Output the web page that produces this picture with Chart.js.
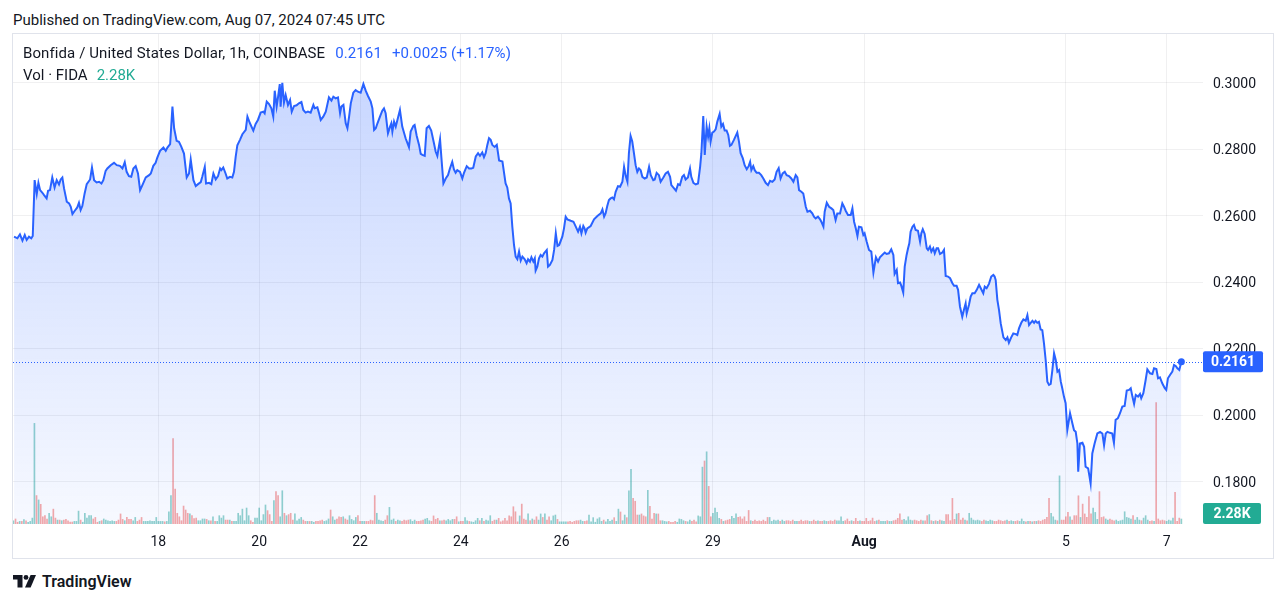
<!DOCTYPE html>
<html>
<head>
<meta charset="utf-8">
<script src="https://cdn.jsdelivr.net/npm/chart.js@4/dist/chart.umd.min.js"></script>
<style>
  html,body{margin:0;padding:0;background:#ffffff;}
  body{width:1286px;height:603px;overflow:hidden;position:relative;font-family:Roboto,"Noto Sans",sans-serif;color:#131722;}
  #pub{position:absolute;left:13px;top:11px;font-size:15px;line-height:18px;white-space:nowrap;}
  #frame{position:absolute;left:12px;top:33px;width:1260px;height:524px;border:1px solid #e0e3eb;}
  #c{position:absolute;left:0;top:0;}
  #leg1{position:absolute;left:10px;top:10px;font-size:15px;line-height:18px;white-space:nowrap;letter-spacing:0.1px;}
  #leg2{position:absolute;left:10px;top:32px;font-size:15px;line-height:18px;white-space:nowrap;}
  .blue{color:#2962ff;margin-left:10px;}
  .teal{color:#22ab94;margin-left:9px;}
  #logo{position:absolute;left:13px;top:572px;height:18px;display:flex;align-items:center;}
  #logo span{font-size:16px;font-weight:600;margin-left:5px;color:#131722;}
</style>
</head>
<body>
<div id="pub">Published on TradingView.com, Aug 07, 2024 07:45 UTC</div>
<div id="frame">
  <canvas id="c" width="1260" height="524"></canvas>
  <div id="leg1"><span id="sym"></span><span class="blue" id="lastP"></span><span class="blue" id="chg"></span></div>
  <div id="leg2"><span id="volName"></span><span class="teal" id="lastV"></span></div>
</div>
<div id="logo">
  <svg width="24" height="13" viewBox="0 0 24 13"><path d="M0 0h9.5v12.5h-5v-8h-4.5z" fill="#131722"/><circle cx="13" cy="2.4" r="2.4" fill="#131722"/><path d="M17.6 0h5.4l-5.4 12.5h-5.6z" fill="#131722"/></svg>
  <span>TradingView</span>
</div>
<script>
// ---------- texts ----------
const symbolTitle = "Bonfida / United States Dollar, 1h, COINBASE";
const lastPriceText = "0.2161";
const changeText = "+0.0025 (+1.17%)";
const volumeTitle = "Vol · FIDA";

// ---------- x axis (hours since Jul 18 00:00 UTC) ----------
const tickHours  = [0, 48, 96, 144, 192, 264, 336, 432, 480];
const tickLabels = ["18", "20", "22", "24", "26", "29", "Aug", "5", "7"];
const priceTicks = [0.18, 0.20, 0.22, 0.24, 0.26, 0.28, 0.30];

// ---------- price (close, 1h) as [hour, price] ----------
const priceJul15to18 = [[-68.7,.2537],[-67.1,.2532],[-65.9,.2544],[-64.7,.2525],[-63.6,.2542],[-62.7,.2527],[-61.6,.2537],[-60.5,.2532],[-59.8,.2539],[-58.9,.2707],[-57.9,.2665],[-57.1,.2699],[-56.3,.2677],[-55.2,.2669],[-54.4,.2662],[-53.2,.2652],[-52.5,.2675],[-51.6,.2677],[-50.5,.2715],[-49.4,.2685],[-48.4,.2707],[-47.3,.2694],[-46.5,.2709],[-45.7,.2715],[-44.9,.2682],[-43.6,.2642],[-42.5,.2637],[-41.7,.2627],[-40.9,.2605],[-39.8,.2615],[-38.6,.2625],[-37.8,.2639],[-37.0,.2617],[-36.2,.2629],[-35.1,.2667],[-34.1,.2695],[-32.5,.2709],[-31.6,.2745],[-30.6,.2707],[-29.4,.2700],[-28.2,.2702],[-27.1,.2697],[-26.2,.2707],[-25.1,.2735],[-24.3,.2742],[-22.7,.2752],[-21.1,.2759],[-19.8,.2752],[-18.3,.2750],[-17.1,.2742],[-16.0,.2761],[-15.1,.2732],[-14.0,.2719],[-12.9,.2717],[-11.9,.2742],[-10.8,.2749],[-9.7,.2727],[-8.7,.2677],[-7.6,.2692],[-6.0,.2715],[-4.4,.2722],[-3.6,.2727],[-2.4,.2750],[-1.3,.2759],[-0.5,.2775],[0.8,.2795],[2.4,.2805],[3.5,.2795],[4.3,.2805],[5.6,.2815],[6.7,.2928],[7.5,.2863],[8.7,.2825],[9.8,.2822],[10.9,.2808],[12.2,.2787],[13.5,.2715],[14.6,.2727],[15.4,.2769],[16.7,.2707],[17.8,.2689],[18.9,.2695],[20.2,.2701],[20.9,.2717],[22.1,.2747],[22.7,.2697],[24.1,.2699],[25.2,.2695],[26.2,.2727],[27.3,.2709],[28.4,.2719],[29.4,.2742]];
const priceJul19to22 = [[30.0,.2737],[30.9,.2745],[32.0,.2727],[32.8,.2712],[34.1,.2717],[35.2,.2715],[36.0,.2732],[36.8,.2777],[37.6,.2812],[38.9,.2829],[40.0,.2845],[41.6,.2858],[42.4,.2898],[43.6,.2878],[45.2,.2856],[46.3,.2876],[47.4,.2888],[48.7,.2910],[50.0,.2913],[50.6,.2908],[51.6,.2943],[52.7,.2936],[53.8,.2923],[54.7,.2898],[55.4,.2976],[56.3,.2928],[57.0,.2958],[57.8,.2996],[58.2,.2928],[59.0,.3000],[59.8,.2940],[60.6,.2963],[61.7,.2933],[62.7,.2948],[63.5,.2913],[64.6,.2930],[65.8,.2932],[66.9,.2938],[68.1,.2942],[69.0,.2918],[70.1,.2910],[71.2,.2913],[72.5,.2910],[73.8,.2933],[74.4,.2923],[75.7,.2926],[76.5,.2908],[77.3,.2888],[78.5,.2898],[79.7,.2913],[81.2,.2956],[82.4,.2946],[83.3,.2958],[84.4,.2953],[85.5,.2956],[86.5,.2908],[87.1,.2928],[88.1,.2933],[89.2,.2878],[90.0,.2863],[90.8,.2898],[91.6,.2938],[92.8,.2970],[93.9,.2978],[95.0,.2973],[96.3,.2970],[97.6,.2996],[98.7,.2976],[99.8,.2960],[101.1,.2943],[101.9,.2923],[102.7,.2858],[103.5,.2863],[104.3,.2878],[105.5,.2898],[106.6,.2916],[107.4,.2923],[108.2,.2908],[109.3,.2848],[110.3,.2868],[110.9,.2878],[111.4,.2853],[112.2,.2883],[113.0,.2868],[113.8,.2888],[115.0,.2918]];
const priceJul22to26 = [[116.1,.2868],[117.7,.2833],[119.3,.2806],[120.1,.2853],[121.4,.2870],[122.0,.2873],[123.0,.2840],[124.1,.2813],[124.9,.2786],[125.7,.2783],[126.8,.2780],[127.7,.2863],[128.8,.2870],[129.9,.2856],[131.2,.2818],[132.0,.2793],[132.8,.2780],[134.1,.2830],[134.7,.2778],[135.7,.2697],[136.8,.2712],[137.9,.2722],[138.8,.2742],[139.9,.2762],[140.7,.2739],[141.5,.2729],[142.3,.2737],[143.6,.2732],[144.7,.2712],[145.5,.2729],[146.8,.2749],[147.9,.2742],[149.0,.2742],[149.9,.2744],[151.1,.2778],[152.2,.2788],[153.1,.2780],[154.2,.2790],[155.0,.2776],[155.8,.2788],[156.6,.2813],[157.4,.2833],[158.2,.2828],[159.0,.2813],[160.1,.2807],[161.1,.2813],[161.7,.2788],[162.2,.2766],[163.8,.2763],[164.5,.2732],[165.3,.2697],[166.1,.2685],[166.9,.2652],[167.7,.2637],[168.5,.2567],[169.3,.2512],[170.1,.2477],[170.9,.2469],[171.7,.2492],[172.5,.2465],[173.3,.2477],[174.4,.2469],[175.3,.2457],[176.0,.2469],[176.9,.2462],[177.6,.2475],[178.5,.2462],[179.2,.2472],[179.6,.2435],[180.4,.2447],[181.2,.2472],[182.0,.2482],[182.8,.2477],[183.6,.2487],[184.9,.2497],[185.5,.2447],[186.4,.2452],[187.6,.2467],[188.4,.2497],[189.2,.2547],[190.0,.2509],[190.8,.2512],[192.3,.2537],[193.1,.2562],[193.9,.2597],[194.7,.2589],[196.3,.2585],[197.6,.2582],[198.7,.2567],[199.8,.2552],[200.7,.2567],[201.4,.2547],[202.3,.2569],[202.9,.2562],[203.4,.2549],[204.2,.2562],[205.8,.2569],[207.4,.2589],[209.0,.2599],[210.6,.2607],[211.4,.2619],[212.2,.2597],[212.9,.2607],[213.7,.2629],[214.5,.2647],[215.3,.2652]];
const priceJul27to30 = [[216.1,.2655],[216.9,.2649],[217.7,.2672],[218.8,.2689],[219.8,.2687],[220.9,.2702],[221.7,.2747],[222.5,.2719],[223.3,.2702],[224.0,.2788],[224.8,.2840],[225.6,.2823],[226.4,.2788],[227.2,.2752],[228.0,.2732],[228.8,.2742],[229.6,.2737],[230.4,.2717],[231.5,.2712],[232.5,.2715],[233.6,.2747],[234.4,.2722],[235.6,.2707],[236.3,.2709],[237.2,.2729],[238.3,.2722],[239.1,.2702],[240.4,.2715],[241.5,.2727],[242.6,.2732],[243.6,.2717],[244.2,.2692],[245.5,.2682],[246.4,.2675],[247.4,.2695],[248.3,.2692],[249.4,.2717],[250.2,.2722],[251.0,.2709],[252.1,.2715],[253.1,.2742],[253.7,.2717],[254.7,.2699],[255.8,.2694],[256.9,.2697],[257.9,.2747],[258.5,.2788],[259.4,.2900],[260.1,.2783],[261.0,.2868],[261.7,.2838],[262.3,.2863],[262.9,.2823],[263.7,.2850],[264.5,.2853],[265.3,.2860],[266.1,.2883],[267.2,.2906],[268.0,.2868],[268.8,.2876],[269.6,.2856],[270.5,.2856],[271.3,.2843],[272.1,.2810],[272.8,.2813],[274.0,.2828],[275.6,.2850],[276.4,.2823],[277.2,.2788],[278.2,.2773],[279.1,.2752],[280.1,.2740],[281.0,.2749],[281.7,.2762],[282.3,.2737],[283.2,.2749],[283.9,.2737],[284.8,.2729],[285.9,.2729],[287.0,.2722],[288.0,.2712],[289.1,.2699],[290.2,.2692],[291.2,.2705],[292.3,.2702],[293.4,.2709],[294.3,.2732],[295.3,.2743],[296.2,.2712],[297.2,.2727],[298.2,.2732],[299.1,.2722],[300.2,.2719],[301.3,.2712],[302.3,.2702],[303.4,.2722],[304.2,.2715],[305.0,.2677],[306.1,.2672]];
const priceJul31toAug3 = [[307.0,.2667],[308.2,.2627],[309.0,.2612],[310.2,.2615],[311.3,.2607],[312.1,.2597],[312.9,.2592],[314.0,.2597],[315.0,.2589],[315.6,.2582],[316.6,.2567],[317.2,.2612],[318.2,.2639],[319.3,.2627],[320.4,.2622],[321.3,.2617],[322.4,.2587],[323.2,.2607],[324.5,.2607],[325.6,.2637],[326.4,.2627],[327.2,.2615],[328.3,.2602],[329.6,.2602],[330.4,.2622],[331.2,.2582],[332.0,.2562],[332.8,.2539],[333.5,.2567],[334.7,.2565],[335.6,.2542],[336.2,.2547],[337.2,.2522],[338.3,.2497],[339.4,.2492],[340.4,.2429],[341.0,.2452],[341.6,.2475],[342.6,.2462],[343.5,.2475],[344.6,.2482],[345.8,.2489],[346.7,.2485],[347.8,.2487],[348.9,.2499],[349.9,.2482],[350.5,.2425],[351.5,.2437],[352.1,.2397],[353.1,.2399],[353.7,.2389],[354.6,.2369],[355.3,.2447],[356.2,.2482],[356.9,.2502],[357.5,.2517],[358.1,.2552],[359.0,.2567],[359.7,.2572],[360.5,.2557],[361.6,.2555],[362.6,.2522],[363.2,.2547],[363.9,.2559],[364.8,.2545],[365.8,.2502],[366.4,.2497],[367.3,.2507],[368.0,.2492],[368.9,.2502],[369.6,.2487],[370.5,.2502],[371.2,.2502],[372.1,.2485],[373.2,.2489],[374.0,.2497],[374.8,.2419],[375.9,.2417],[376.9,.2412],[378.0,.2397],[378.8,.2389],[380.0,.2389],[380.7,.2377],[381.6,.2327],[382.7,.2296],[383.5,.2317],[384.3,.2336],[384.8,.2306],[385.9,.2332],[386.7,.2357],[387.5,.2367],[388.6,.2367],[389.6,.2377],[390.7,.2392],[391.5,.2382],[392.7,.2367],[393.4,.2387],[394.3,.2382],[395.4,.2395],[396.5,.2417],[397.5,.2422]];
const priceAug4to7 = [[398.1,.2417],[398.6,.2407],[399.4,.2347],[400.2,.2316],[401.0,.2276],[402.3,.2234],[403.4,.2226],[404.2,.2234],[404.9,.2218],[406.0,.2234],[407.0,.2246],[408.1,.2244],[408.9,.2241],[409.7,.2261],[410.8,.2278],[411.8,.2288],[412.9,.2284],[413.7,.2301],[414.5,.2271],[415.3,.2278],[416.1,.2284],[416.9,.2278],[417.6,.2284],[418.4,.2278],[419.2,.2281],[420.0,.2258],[420.8,.2256],[421.6,.2216],[422.4,.2166],[423.2,.2101],[424.0,.2091],[424.8,.2094],[425.6,.2136],[426.4,.2186],[427.2,.2166],[428.0,.2131],[428.8,.2136],[429.6,.2101],[430.3,.2081],[431.1,.2056],[431.9,.2036],[432.7,.1955],[433.5,.1986],[434.0,.2006],[435.1,.1976],[435.9,.1955],[436.7,.1950],[437.5,.1915],[437.9,.1830],[438.7,.1915],[439.9,.1917],[440.7,.1905],[441.4,.1845],[442.6,.1840],[443.3,.1815],[443.8,.1795],[444.6,.1885],[445.7,.1915],[447.0,.1945],[448.3,.1950],[449.4,.1945],[450.2,.1910],[451.0,.1945],[451.8,.1950],[453.0,.1947],[454.1,.1945],[454.9,.1917],[455.7,.1986],[456.8,.1991],[457.8,.2006],[458.9,.2026],[460.0,.2028],[461.0,.2074],[462.1,.2076],[462.9,.2081],[463.7,.2056],[464.5,.2034],[465.3,.2061],[466.4,.2056],[467.3,.2064],[467.9,.2051],[468.9,.2066],[470.0,.2106],[470.8,.2138],[472.1,.2126],[473.2,.2124],[474.0,.2141],[475.1,.2139],[475.9,.2111],[476.8,.2114],[477.9,.2096],[479.1,.2081],[479.8,.2076],[480.6,.2111],[481.6,.2121],[482.7,.2131],[483.5,.2151],[484.3,.2148],[485.1,.2141],[486.0,.2136],[487.0,.2161]];

// ---------- volume (thousands FIDA per hour), each block starts at an hour ----------
const volA_start = -69, volA = [1.5,2.3,0.8,1.2,1.2,2,1.5,0.8,1.2,2.7,46,13,11,9,3.3,3.8,2.3,4.9,3.3,6.8,2.7,1.8,1.8,1.5,1.8,2.1,1.5,0.9,0.9,1.2,1.2,5.9,1.8,0.8,4.9,2.7,3.8,3.8,2.3,3,0.8];
const volB_start = -28, volB = [1.2,1.5,2.3,1.8,1.5,1.2,1.5,1.2,1.2,1.8,4.6,2.1,1.5,3,2.1,2.1,1.5,3,1.2,1.8,3,1.2,1.2,1.2,1.5,1.2,1.2,3,1.2,1.2,1.2,1,1.2];
const volC_start = 5, volC = [5.6,13,39,16,4.9,3.3,1.5,8.2,6.4,4.9,4.6,3.8,2.5,2.7,1.5,1.5,2.3,2.3,2.1,1.5,1.5,3.3,1.2,1.2,3.8,2.7,3.8,1.8,1.8,1.8,1.2,1.2,1.2,4.9,3.8,6.8,1.5,7.3,3.8,1.5,0.8,2.7,2.7,7.3,1.5,4.3,8.7,6.1,4.3,1.2,10.7,14.8,13,3.3,15.2,4.9,3.8,4.3,4.9,1.8,4.6,1.5,2.3,3,1.8,1.2,1.2,1.2,1.2,0.8,1.2,1.2,1.5,1.8,1.2,1.5,2.3];
const volD_start = 82, volD = [6.4,3.3,1.8,2.3,3.3,3,3.3,2.3,1.8,3.8,2.1,1.5,3,3.8,1.2,1.2,1.2,1.2,1.2,1.8,1.5,13,4.9,1.8,1.5,1.2,1.8,3.8,7.6,1.8,2.3,1.2,1.8,1.5,1.2,1.8,1.5,1.8,2];
const volE_start = 121, volE = [1.2,1.8,1.2,1.2,1.5,1.8,2.3,2.6,1.5,1.2,3.7,2.1,2.6,1.5,1.5,1.8,1.5,2.1,1.5,2.1,2.1,3.3,1,1.2,1.2,2.9,1.5,1.2,1,0.8,1.5,2.6,1.5,2.6,1.2,1.8,1.5,3.8,1.2,1.8,1.8,2.6,1,1.5,2.6,1.5,3.7,3.3,7.9,5.6,1,3.7,9.1,2.3,1.8,4.6,1.5,2.3,1.8,3.3,1.8,4.6,3,4.6,1.8,3.3,1.5,3.7,4.1,2.1,1,1,1,1,1,1.2,0.8,1.2,1.5,1.5,1.8,1.2,1.2,1.5];
const volF_start = 205, volF = [4.1,1,2.9,0.8,2.3,2.9,1.2,1.8,1,2.1,1.2,1.8,2.9,1.2,6.8,5.5,1.5,4.1,2.9,15.2,25,11.7,10.4,4.1,4.1,4.6,3.7,3.3,15.4,8.1,2.3,4.9,4.6,4.6,1.5,1.5,1.2];
const volG_start = 242, volG = [1,1.2,0.8,0.8,1.2,0.8,2.3,2.1,1.5,1.2,1,1.8,1.2,1.8,1,3.7,3.3,26,28.8,33,17.2,3.3,4.9,7.3,5.3,2.6,2.1,1.2,1.5,1.8,2.1,3.5,2.6,4.6,3,3.3,2.3,3.3,1.2,6.2,1.5,1.2,1.8,1.2,1.5,1.2,1.8,1.2,3,3,1.2,1.8,1.5,1.8,1.2,1.8,1.2,1.5,1.5,1.2,1.8,1.2];
const volH_start = 304, volH = [1.2,1.2,1.8,1.2,1.5,1.5,1.2,1.2,1.8,1.2,1.5,1.2,1.2,1.5,1.2,1.2,1.5,1.2,1.8,1.5,1.5,3.3,1.2,1.5,2.3,1.2,1.5,1.2,2.6,1.2,1.5,1.2,1.2,2.6,1.2,1.5,2.7,1.2,1.5,1.8,1.2,1.2,1.2,1.5,1.2,1.2,1.5,1.8,2.6,4.6,1.8,2.1,1.5,3.3,1.8,1.5,1.8,1.5,1.2,1.8,1.5,1.5,3.8,4.3,1.5,1.2,1.5,1.2,1.8,1.5,1.2];
const volI_start = 375, volI = [4.3,4.3,1.5,11.7,2.1,4.6,4.9,1.8,2.7,1.8,1.5,4.9,2.7,1.8,1.5,1.8,1.5,1.2,1.8,1.5,1.2,1.8,1.5,1.2,1.2,1.8,1.5,1.2,1.5,1.8,1.2,1.5,1.2,1.2,1.5,1.2,2.3,1.2,1,1.2,1.2,1,1.2,1.2,1.5,1.2,1.8];
const volJ_start = 422, volJ = [2.1,3,11.7,4.9,3.3,1.8,1.5,22,1.8,1.8,3.3,5.3,3.3,1.8,3.8,3.8,12.9,3,9.1,4.6,3,12.5,4.6,7.3,5.3,2.1,14.8,3,3.3,2.3,1.8,2.3,1.8,1.5,1.8,1.2,1.5,1.8,5.6,3,2.7,2.3,3.8,1.8,3,1.8,1.5,2.7,3.8,1.8,1.2,1.5,1.2,55.5,2.3,1.5,1.8,1.5,1.2,1.8,1.5,2.7,14.5,1.2,2.7,2.28];
// candle direction read for the larger bars
const upHours   = [-59,-57,-38,6,40,42,48,51,55,59,110,219,224,225,233,259,261,265,266,429,445,446,460,487];
const downHours = [-58,-56,-50,7,8,12,13,52,56,57,82,103,169,170,173,220,226,227,234,260,262,281,378,424,433,438,440,443,448,475,484];

// ---------- build ----------
const FONT = 'Roboto, "Noto Sans", sans-serif';
const linePts = [].concat(priceJul15to18, priceJul19to22, priceJul22to26, priceJul27to30, priceJul31toAug3, priceAug4to7)
  .map(([h, p]) => ({x: h, y: p}));
const lastPrice = linePts[linePts.length - 1].y;

function priceAt(h) {
  if (h <= linePts[0].x) return linePts[0].y;
  for (let i = 1; i < linePts.length; i++) {
    if (linePts[i].x >= h) {
      const a = linePts[i-1], b = linePts[i];
      return a.y + (b.y - a.y) * (h - a.x) / (b.x - a.x);
    }
  }
  return linePts[linePts.length - 1].y;
}
const volPts = [];
[[volA_start, volA],[volB_start, volB],[volC_start, volC],[volD_start, volD],[volE_start, volE],
 [volF_start, volF],[volG_start, volG],[volH_start, volH],[volI_start, volI],[volJ_start, volJ]]
  .forEach(([s, arr]) => arr.forEach((v, i) => volPts.push({x: s + i, y: v})));
const UP = 'rgba(38,166,154,0.5)', DOWN = 'rgba(239,83,80,0.5)';
const volColors = volPts.map(p => {
  if (upHours.includes(p.x)) return UP;
  if (downHours.includes(p.x)) return DOWN;
  return priceAt(p.x) >= priceAt(p.x - 1) ? UP : DOWN;
});
const lastVol = volPts[volPts.length - 1].y;

document.getElementById('sym').textContent = symbolTitle;
document.getElementById('lastP').textContent = lastPriceText;
document.getElementById('chg').textContent = changeText;
document.getElementById('volName').textContent = volumeTitle;
document.getElementById('lastV').textContent = lastVol.toFixed(2) + 'K';

const overlay = {
  id: 'overlay',
  afterDatasetsDraw(chart) {
    const {ctx, chartArea: ca, scales} = chart;
    const y = Math.round(scales.y.getPixelForValue(lastPrice)) + 0.5;
    ctx.save();
    ctx.strokeStyle = '#2962ff'; ctx.lineWidth = 1; ctx.setLineDash([1, 2]);
    ctx.beginPath(); ctx.moveTo(ca.left, y); ctx.lineTo(ca.right, y); ctx.stroke();
    ctx.restore();
  },
  afterDraw(chart) {
    const {ctx, chartArea: ca, scales} = chart;
    function box(cy, w, color, text) {
      const h = 21, x = ca.right, top = cy - h / 2;
      ctx.fillStyle = color;
      ctx.beginPath();
      if (ctx.roundRect) ctx.roundRect(x, top, w, h, 2); else ctx.rect(x, top, w, h);
      ctx.fill();
      ctx.fillStyle = '#ffffff';
      ctx.font = 'bold 14px ' + FONT;
      ctx.textAlign = 'center'; ctx.textBaseline = 'middle';
      ctx.fillText(text, x + w / 2, cy + 0.5);
    }
    ctx.save();
    box(scales.y.getPixelForValue(lastPrice), 60, '#2962ff', lastPrice.toFixed(4));
    const vy = Math.min(scales.yv.getPixelForValue(lastVol), ca.bottom - 10.5);
    box(vy, 58, '#22ab94', lastVol.toFixed(2) + 'K');
    ctx.restore();
  }
};

const noPad = s => { s.paddingLeft = 0; s.paddingRight = 0; s.paddingTop = 0; s.paddingBottom = 0; };

new Chart(document.getElementById('c'), {
  data: {
    datasets: [
      {
        type: 'line', data: linePts, yAxisID: 'y', order: 0,
        borderColor: '#2962ff', borderWidth: 2, tension: 0,
        pointRadius: c => c.dataIndex === linePts.length - 1 ? 3.5 : 0,
        pointBackgroundColor: '#2962ff', pointBorderWidth: 0, pointHoverRadius: 0,
        fill: 'start',
        backgroundColor: c => {
          const {ctx, chartArea} = c.chart;
          if (!chartArea) return 'rgba(41,98,255,0.15)';
          const g = ctx.createLinearGradient(0, chartArea.top, 0, chartArea.bottom);
          g.addColorStop(0, 'rgba(41,98,255,0.28)');
          g.addColorStop(1, 'rgba(41,98,255,0.04)');
          return g;
        }
      },
      {
        type: 'bar', data: volPts, yAxisID: 'yv', order: 1,
        backgroundColor: volColors, barThickness: 1, borderWidth: 0
      }
    ]
  },
  options: {
    responsive: false, animation: false, events: [],
    layout: {padding: 0, autoPadding: false},
    plugins: {legend: {display: false}, tooltip: {enabled: false}},
    scales: {
      x: {
        type: 'linear', position: 'bottom', min: -69.2, max: 497.3, offset: false,
        grid: {color: 'rgba(42,46,57,0.07)', drawTicks: false, offset: false},
        border: {display: false},
        afterBuildTicks: s => { s.ticks = tickHours.map(v => ({value: v})); },
        ticks: {
          autoSkip: false, maxRotation: 0, padding: 10, color: '#131722',
          font: c => ({family: FONT, size: 14, weight: (c.tick && tickLabels[tickHours.indexOf(c.tick.value)] === 'Aug') ? 'bold' : 'normal'}),
          callback: v => tickLabels[tickHours.indexOf(v)]
        },
        afterFit: s => { s.height = 34; noPad(s); }
      },
      y: {
        position: 'right', min: 0.16728, max: 0.31465,
        grid: {color: 'rgba(42,46,57,0.07)', drawTicks: false},
        border: {display: false},
        afterBuildTicks: s => { s.ticks = priceTicks.map(v => ({value: v})); },
        ticks: {padding: 10, labelOffset: 1.5, color: '#131722', font: {family: FONT, size: 14}, callback: v => v.toFixed(4)},
        afterFit: s => { s.width = 70; noPad(s); }
      },
      yv: {display: false, position: 'left', min: 0, max: 224, afterFit: noPad}
    }
  },
  plugins: [overlay]
});
</script>
</body>
</html>
